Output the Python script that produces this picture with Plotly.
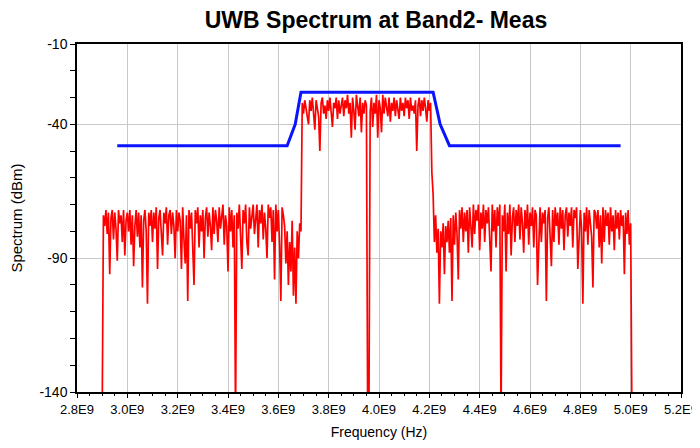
import plotly.graph_objects as go

# ---------------- data ----------------
freq_start_hz = 2.9e9
freq_step_hz = 5e6

# measured spectrum (dBm), left side band 2.900 .. 3.690 GHz
left_dbm = [
    -150, -74, -78, -72, -81, -73, -96, -75, -72, -83,
    -73, -79, -91, -72, -77, -74, -84, -72, -89, -76,
    -73, -80, -72, -85, -74, -93, -78, -72, -82, -73,
    -86, -74, -101, -76, -72, -80, -107, -73, -78, -72,
    -84, -73, -79, -71, -94, -75, -72, -82, -89, -73,
    -77, -71, -85, -74, -72, -81, -73, -78, -90, -72,
    -80, -73, -76, -94, -71, -83, -92, -74, -106, -72,
    -79, -73, -84, -100, -72, -77, -71, -86, -74, -80,
    -72, -90, -75, -71, -82, -73, -78, -87, -71, -81,
    -72, -76, -84, -71, -79, -73, -70, -85, -74, -78,
    -95, -71, -80, -72, -86, -74, -150, -73, -79, -70,
    -82, -94, -72, -77, -70, -84, -89, -71, -79, -73,
    -70, -81, -74, -70, -86, -72, -77, -70, -83, -73,
    -79, -90, -70, -75, -71, -84, -72, -98, -70, -80,
    -72, -85, -106, -71, -74, -78, -92, -80, -100, -84,
    -95, -76, -104, -86, -107, -80, -90, -77, -80,
]
# in-band 3.695 .. 4.205 GHz
mid_dbm = [
    -32, -36, -31, -34, -37, -40, -31, -35, -30, -36,
    -42, -31, -34, -37, -50, -32, -30, -36, -33, -38,
    -31, -35, -30, -37, -41, -32, -34, -30, -38, -31,
    -36, -33, -30, -37, -31, -34, -29, -36, -32, -45,
    -30, -35, -42, -29, -33, -37, -30, -43, -32, -36,
    -31, -33, -150, -150, -35, -30, -41, -32, -36, -29,
    -45, -31, -34, -43, -29, -36, -30, -33, -37, -30,
    -39, -32, -35, -30, -37, -31, -34, -38, -30, -35,
    -32, -37, -30, -34, -31, -38, -30, -35, -33, -36,
    -31, -50, -33, -30, -37, -31, -35, -30, -34, -39,
    -31, -35, -32,
]
# right side band 4.210 .. 5.005 GHz
right_dbm = [
    -58, -66, -84, -74, -88, -79, -107, -80, -86, -77,
    -96, -78, -84, -76, -88, -75, -106, -74, -85, -73,
    -81, -98, -72, -79, -71, -84, -73, -80, -72, -88,
    -71, -78, -86, -70, -81, -72, -76, -70, -87, -73,
    -79, -70, -84, -72, -77, -71, -82, -95, -70, -80,
    -72, -86, -71, -78, -70, -150, -74, -80, -70, -95,
    -73, -81, -70, -89, -75, -71, -84, -72, -78, -70,
    -83, -71, -77, -88, -72, -79, -70, -85, -73, -78,
    -71, -86, -72, -74, -100, -80, -71, -84, -73, -77,
    -72, -106, -75, -71, -80, -93, -72, -84, -71, -78,
    -73, -85, -71, -79, -72, -87, -74, -71, -82, -73,
    -78, -71, -86, -72, -75, -71, -94, -83, -72, -79,
    -107, -73, -80, -71, -85, -72, -76, -82, -101, -72,
    -73, -79, -72, -86, -74, -92, -71, -84, -72, -78,
    -73, -85, -71, -80, -74, -87, -72, -79, -73, -83,
    -72, -78, -74, -96, -73, -81, -72, -85, -77, -150,
]

# spectral mask
mask_freq_hz = [2.96e9, 3.635e9, 3.667e9, 3.69e9, 4.215e9, 4.243e9, 4.28e9, 4.96e9]
mask_dbm = [-48, -48, -40, -28, -28, -40, -48, -48]

x_tick_vals = [2.8e9, 3.0e9, 3.2e9, 3.4e9, 3.6e9, 3.8e9, 4.0e9, 4.2e9, 4.4e9, 4.6e9, 4.8e9, 5.0e9, 5.2e9]
x_tick_text = ["2.8E9", "3.0E9", "3.2E9", "3.4E9", "3.6E9", "3.8E9", "4.0E9", "4.2E9", "4.4E9", "4.6E9", "4.8E9", "5.0E9", "5.2E9"]
y_tick_vals = [-140, -90, -40, -10]
y_tick_text = ["-140", "-90", "-40", "-10"]

# ---------------- figure ----------------
spec_dbm = left_dbm + mid_dbm + right_dbm
spec_freq = [freq_start_hz + i * freq_step_hz for i in range(len(spec_dbm))]

font_family = "Liberation Sans, Arial, sans-serif"

fig = go.Figure()
fig.add_trace(go.Scatter(x=spec_freq, y=spec_dbm, mode="lines",
                         line=dict(color="#ff0000", width=1.7), showlegend=False))
fig.add_trace(go.Scatter(x=mask_freq_hz, y=mask_dbm, mode="lines",
                         line=dict(color="#0a14ff", width=3), showlegend=False))

fig.update_layout(
    width=700, height=448,
    margin=dict(l=69, r=27, t=36, b=64, autoexpand=False),
    paper_bgcolor="white", plot_bgcolor="white",
    font=dict(family=font_family, color="black", size=14),
    title=dict(text="<b>UWB Spectrum at Band2- Meas</b>", x=368 / 700, xanchor="center",
               y=1 - 12 / 448, yanchor="middle", yref="container",
               font=dict(size=23, family=font_family, color="black")),
)
fig.update_xaxes(
    range=[2.8e9, 5.2e9], tickmode="array", tickvals=x_tick_vals, ticktext=x_tick_text,
    showline=True, linecolor="black", linewidth=1.5, mirror=True,
    ticks="outside", ticklen=4, tickcolor="black", ticklabelstandoff=1,
    showgrid=True, gridcolor="#c8c8c8", gridwidth=1, zeroline=False,
    minor=dict(dtick=0.05e9, tick0=2.8e9, ticks="outside", ticklen=2, tickcolor="black", showgrid=False),
    tickfont=dict(size=13),
    title=dict(text="Frequency (Hz)", font=dict(size=14), standoff=11),
)
fig.update_yaxes(
    range=[-140, -10], tickmode="array", tickvals=y_tick_vals, ticktext=y_tick_text,
    showline=True, linecolor="black", linewidth=1.5, mirror=True,
    ticks="outside", ticklen=5, tickcolor="black",
    showgrid=True, gridcolor="#c8c8c8", gridwidth=1, zeroline=False,
    minor=dict(dtick=10, tick0=-140, ticks="outside", ticklen=5, tickcolor="black", showgrid=False),
    tickfont=dict(size=14),
    title=dict(text="Spectrum (dBm)", font=dict(size=15), standoff=15),
)

fig.write_html("out.html")
